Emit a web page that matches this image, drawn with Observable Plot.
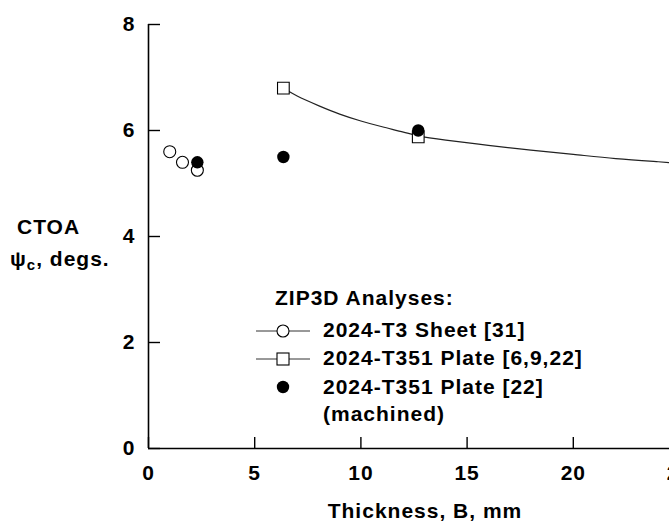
<!DOCTYPE html>
<html><head><meta charset="utf-8">
<script src="https://cdn.jsdelivr.net/npm/d3@7"></script>
<script src="https://cdn.jsdelivr.net/npm/@observablehq/plot@0.6"></script>
<style>
body{margin:0;background:#fff;}
#chart{width:669px;height:523px;overflow:hidden;position:relative;background:#fff;}
</style></head><body><div id="chart"></div>
<script>
// ZIP3D analyses: CTOA vs thickness
const sheetB = [1.0, 1.6, 2.3];
const sheetPsi = [5.6, 5.4, 5.25];
const plateB = [6.35, 12.7];
const platePsi = [6.8, 5.88];
const machinedB = [2.3, 6.35, 12.7];
const machinedPsi = [5.4, 5.5, 6.0];
const fitB = [6.35, 7, 8, 9, 10, 11, 12, 12.7, 14, 16, 18, 20, 22, 24, 25];
const fitPsi = [6.8, 6.65, 6.47, 6.31, 6.18, 6.07, 5.97, 5.9, 5.82, 5.72, 5.63, 5.55, 5.47, 5.41, 5.38];
const xTicks = [0, 5, 10, 15, 20, 25];
const yTicks = [0, 2, 4, 6, 8];
const legendTitle = "ZIP3D Analyses:";
const legendLabels = ["2024-T3 Sheet [31]", "2024-T351 Plate [6,9,22]", "2024-T351 Plate [22]", "(machined)"];
const xTitle = "Thickness, B, mm";

const zip = (a, b) => a.map((v, i) => ({b: v, psi: b[i]}));
const sheet = zip(sheetB, sheetPsi);
const plate = zip(plateB, platePsi);
const machined = zip(machinedB, machinedPsi);
const fit = zip(fitB, fitPsi);

const FONT = "'Liberation Sans', Arial, Helvetica, sans-serif";

const plot = Plot.plot({
  width: 669,
  height: 523,
  marginLeft: 148,
  marginRight: 0,
  marginTop: 24,
  marginBottom: 75,
  style: {fontFamily: FONT, fontSize: "21px", fontWeight: "bold", letterSpacing: "1px", color: "#000", background: "#fff"},
  x: {domain: [0, 25], range: [148, 679], label: null},
  y: {domain: [0, 8], label: null},
  marks: [
    Plot.ruleX([0], {y1: 0, y2: 8, stroke: "#000", strokeWidth: 1.6}),
    Plot.ruleY([0], {stroke: "#000", strokeWidth: 1.6}),
    Plot.axisY(yTicks, {anchor: "left", tickSize: -12, tickPadding: 25, tickFormat: d => String(d), strokeWidth: 1.4, stroke: "#000", fill: "#000", label: null}),
    Plot.axisX(xTicks, {anchor: "bottom", tickSize: -11, tickPadding: 28, tickFormat: d => String(d), strokeWidth: 1.4, stroke: "#000", fill: "#000", label: null}),
    Plot.line(fit, {x: "b", y: "psi", curve: "natural", stroke: "#222", strokeWidth: 1.2}),
    Plot.dot(sheet, {x: "b", y: "psi", r: 6, symbol: "circle", stroke: "#000", strokeWidth: 1.1, fill: "#fff"}),
    Plot.dot(plate, {x: "b", y: "psi", r: 6.6, symbol: "square", stroke: "#000", strokeWidth: 1.1, fill: "#fff"}),
    Plot.dot(machined, {x: "b", y: "psi", r: 6.2, symbol: "circle", fill: "#000", stroke: "none"})
  ]
});

const svg = d3.select(plot);
const ann = svg.append("g")
  .attr("font-family", FONT).attr("font-size", 21).attr("font-weight", "bold")
  .style("letter-spacing", "1px").attr("fill", "#000").attr("text-anchor", "start");

// y-axis title
ann.append("text").attr("x", 17).attr("y", 234).text("CTOA");
const yt = ann.append("text").attr("x", 10).attr("y", 266);
yt.append("tspan").text("\u03C8");
yt.append("tspan").attr("font-size", 15).attr("dy", 4).text("c");
yt.append("tspan").attr("dy", -4).text(", degs.");

// x-axis title
ann.append("text").attr("x", 425).attr("y", 518).attr("text-anchor", "middle").text(xTitle);

// legend
ann.append("text").attr("x", 275).attr("y", 305).text(legendTitle);
const baselines = [337, 365, 394, 421];
legendLabels.forEach((t, i) => ann.append("text").attr("x", 323).attr("y", baselines[i]).text(t));
const lg = svg.append("g");
[331, 359].forEach(y => lg.append("line").attr("x1", 256).attr("x2", 310).attr("y1", y).attr("y2", y).attr("stroke", "#333").attr("stroke-width", 1));
lg.append("circle").attr("cx", 283).attr("cy", 331).attr("r", 6).attr("fill", "#fff").attr("stroke", "#000").attr("stroke-width", 1.1);
lg.append("rect").attr("x", 277).attr("y", 353).attr("width", 12).attr("height", 12).attr("fill", "#fff").attr("stroke", "#000").attr("stroke-width", 1.1);
lg.append("circle").attr("cx", 283).attr("cy", 387).attr("r", 6.2).attr("fill", "#000");

document.getElementById("chart").appendChild(plot);
</script></body></html>
